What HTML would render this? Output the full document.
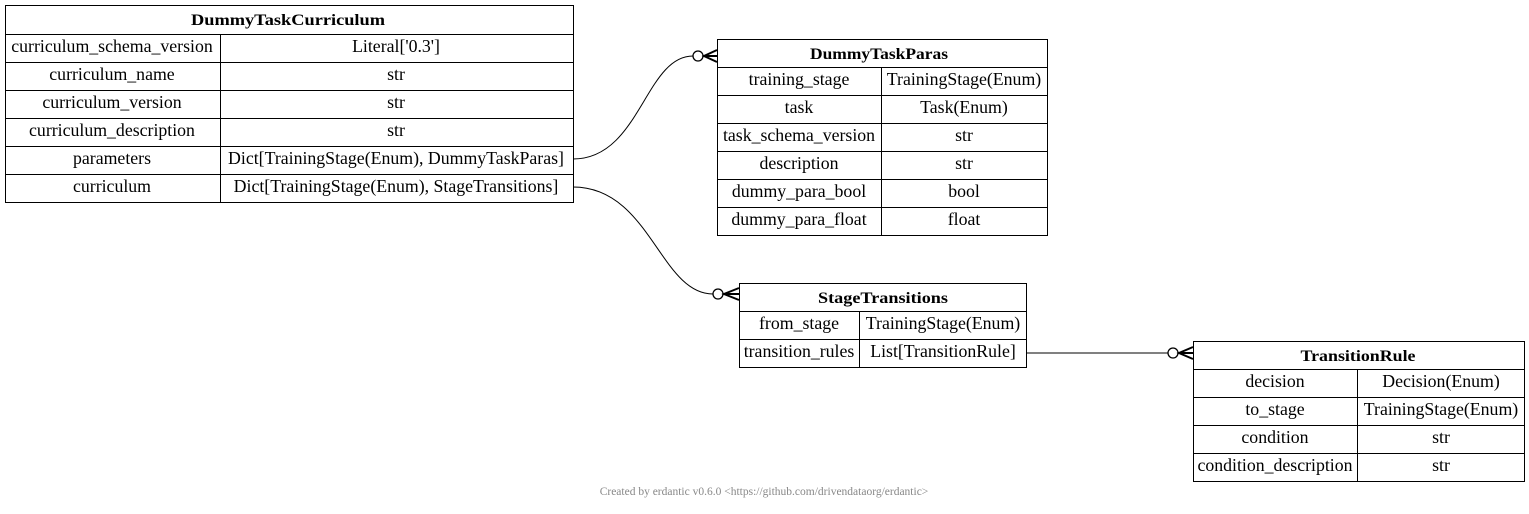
<!DOCTYPE html>
<html><head><meta charset="utf-8"><style>body{margin:0;background:#fff}text{font-family:"Liberation Serif",serif;font-size:17.8px}text.h{font-size:16px;font-weight:bold}</style></head><body>
<svg width="1529" height="509" xmlns="http://www.w3.org/2000/svg">
<g fill="none" stroke="#000" stroke-width="1">
<rect x="5.5" y="5.5" width="568" height="197"/>
<path d="M5 34.5H573M5 62.5H573M5 90.5H573M5 118.5H573M5 146.5H573M5 174.5H573M220.5 34V202"/>
<rect x="717.5" y="39.5" width="330" height="196"/>
<path d="M717 67.5H1047M717 95.5H1047M717 123.5H1047M717 151.5H1047M717 179.5H1047M717 207.5H1047M881.5 67V235"/>
<rect x="739.5" y="283.5" width="287" height="84"/>
<path d="M739 311.5H1026M739 339.5H1026M859.5 311V367"/>
<rect x="1193.5" y="341.5" width="331" height="140"/>
<path d="M1193 369.5H1524M1193 397.5H1524M1193 425.5H1524M1193 453.5H1524M1357.5 369V481"/>
<path d="M573 159C640 159 645 56 693 56"/>
<circle cx="698" cy="56" r="5" stroke-width="1.3"/>
<path d="M717 50L704 56L717 62M704 56H717" stroke-width="2"/>
<path d="M573 187C650 187 660 294 713 294"/>
<circle cx="718" cy="294" r="5" stroke-width="1.3"/>
<path d="M739 288L724 294L739 300M724 294H739" stroke-width="2"/>
<path d="M1026 353H1168"/>
<circle cx="1173" cy="353" r="5" stroke-width="1.3"/>
<path d="M1193 347L1179 353L1193 359M1179 353H1193" stroke-width="2"/>
</g>
<g text-anchor="middle">
<text class="h" x="288" y="25" textLength="194" lengthAdjust="spacingAndGlyphs">DummyTaskCurriculum</text>
<text x="112" y="52">curriculum_schema_version</text><text x="396" y="52">Literal['0.3']</text>
<text x="112" y="80">curriculum_name</text><text x="396" y="80">str</text>
<text x="112" y="108">curriculum_version</text><text x="396" y="108">str</text>
<text x="112" y="136">curriculum_description</text><text x="396" y="136">str</text>
<text x="112" y="164">parameters</text><text x="396" y="164">Dict[TrainingStage(Enum), DummyTaskParas]</text>
<text x="112" y="192">curriculum</text><text x="396" y="192">Dict[TrainingStage(Enum), StageTransitions]</text>

<text class="h" x="879" y="59" textLength="138" lengthAdjust="spacingAndGlyphs">DummyTaskParas</text>
<text x="799" y="85">training_stage</text><text x="964" y="85">TrainingStage(Enum)</text>
<text x="799" y="113">task</text><text x="964" y="113">Task(Enum)</text>
<text x="799" y="141">task_schema_version</text><text x="964" y="141">str</text>
<text x="799" y="169">description</text><text x="964" y="169">str</text>
<text x="799" y="197">dummy_para_bool</text><text x="964" y="197">bool</text>
<text x="799" y="225">dummy_para_float</text><text x="964" y="225">float</text>

<text class="h" x="883" y="303" textLength="130" lengthAdjust="spacingAndGlyphs">StageTransitions</text>
<text x="799" y="329">from_stage</text><text x="943" y="329">TrainingStage(Enum)</text>
<text x="799" y="357">transition_rules</text><text x="943" y="357">List[TransitionRule]</text>

<text class="h" x="1358" y="361" textLength="115" lengthAdjust="spacingAndGlyphs">TransitionRule</text>
<text x="1275" y="387">decision</text><text x="1441" y="387">Decision(Enum)</text>
<text x="1275" y="415">to_stage</text><text x="1441" y="415">TrainingStage(Enum)</text>
<text x="1275" y="443">condition</text><text x="1441" y="443">str</text>
<text x="1275" y="471">condition_description</text><text x="1441" y="471">str</text>

<text x="764" y="495" style="font-size:11.5px" fill="#888">Created by erdantic v0.6.0 &lt;https://github.com/drivendataorg/erdantic&gt;</text>
</g>
</svg>
</body></html>
